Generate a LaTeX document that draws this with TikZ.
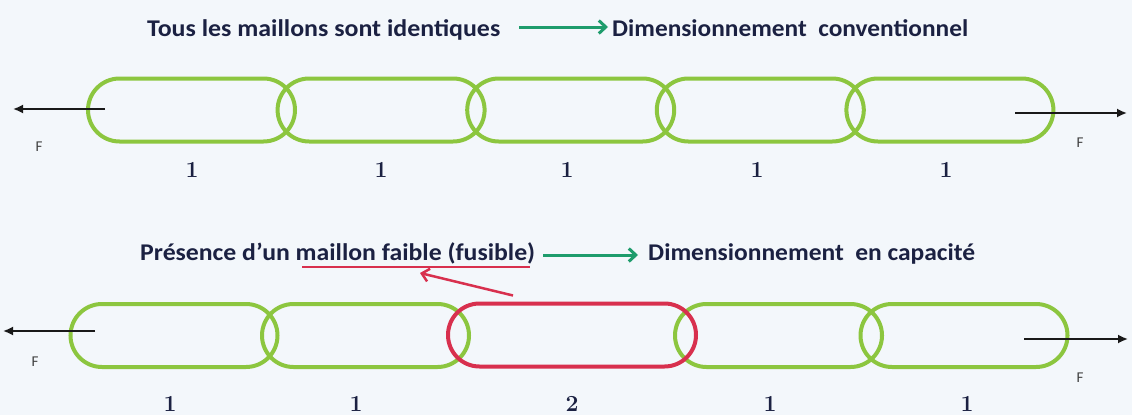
\documentclass[tikz,border=0pt]{standalone}
\usepackage{fontspec}
\newfontfamily\calibri{Carlito}
\usetikzlibrary{arrows.meta}
\definecolor{bg}{HTML}{F3F7FB}
\definecolor{ink}{HTML}{1B2142}
\definecolor{linkgreen}{HTML}{8CC63F}
\definecolor{linkred}{HTML}{D8304E}
\definecolor{arrowgreen}{HTML}{1E9C6C}
\tikzset{
  link/.style={draw=linkgreen, line width=4pt, rounded corners=31.5pt,
    minimum height=63pt, minimum width=207pt, inner sep=0pt},
  weak/.style={link, draw=linkred},
  force/.style={draw=black!90, line width=1.8pt, -{Latex[length=10pt,width=9pt]}},
  leadto/.style={draw=arrowgreen, line width=3pt, -{Straight Barb[length=7pt,width=13pt]}},
  pointer/.style={draw=linkred, line width=2.5pt, -{Straight Barb[length=7pt,width=13pt]}},
  underl/.style={draw=linkred, line width=2pt},
  caption/.style={inner sep=0pt, text=ink, anchor=base west,
    font=\calibri\bfseries\fontsize{24}{28}\selectfont},
  num/.style={inner sep=0pt, text=ink, anchor=base, font=\bfseries\fontsize{23}{28}\selectfont},
  flabel/.style={inner sep=0pt, text=black!75, font=\calibri\fontsize{15}{18}\selectfont},
}
\begin{document}
\begin{tikzpicture}[x=1pt,y=-1pt]
\fill[bg] (0,0) rectangle (1132,415);
\useasboundingbox (0,0) rectangle (1132,415);

% ---- conventional design: identical links ----
\node[caption] (same) at (147,36) {\resizebox{353pt}{\height}{Tous les maillons sont identiques}};
\node[caption] (conv) at (612,36) {\resizebox{356pt}{\height}{Dimensionnement~~conventionnel}};
\draw[leadto] ([shift={(19pt,9pt)}]same.base east) -- ([shift={(-4pt,9pt)}]conv.base west);

\foreach \i/\x in {1/191.5,2/381.1,3/570.7,4/760.3,5/949.9}
  \node[link] (t\i) at (\x,110) {};

\coordinate (tFL) at (13,109);
\coordinate (tFR) at (1127,113);
\draw[force] ([shift={(19pt,1pt)}]t1.west) -- (tFL);
\draw[force] ([shift={(-40pt,-3pt)}]t5.east) -- (tFR);
\node[flabel] (fTL) at (39,147) {F};
\node[flabel] (fTR) at (1080,143) {F};

\foreach \i/\x in {1/192,2/381,3/567,4/757,5/946}
  \node[num] (tn\i) at (\x,177) {1};

% ---- capacity design: one weak link (fuse) ----
\node[caption] (weakcap) at (140,260) {\resizebox{395pt}{\height}{Présence d’un maillon faible (fusible)}};
\node[caption] (capa) at (648,260) {\resizebox{327pt}{\height}{Dimensionnement~~en capacité}};
\draw[leadto] ([shift={(8pt,5pt)}]weakcap.base east) -- ([shift={(-10pt,5pt)}]capa.base west);

\coordinate (ulA) at ([shift={(162pt,-7pt)}]weakcap.base west);
\coordinate (ulB) at ([shift={(-5pt,-7pt)}]weakcap.base east);
\draw[underl] (ulA) -- (ulB);

\node[link] (b1) at (174,335.5) {};
\node[link] (b2) at (365.5,335.5) {};
\node[link] (b4) at (778.5,335.5) {};
\node[link] (b5) at (964,335.5) {};
\node[weak, minimum width=248pt] (b3) at (572,335) {};

\draw[pointer] ([shift={(-59pt,6pt)}]b3.north) -- ([shift={(118pt,-6pt)}]ulA);

\coordinate (bFL) at (3,331);
\coordinate (bFR) at (1128,339);
\draw[force] ([shift={(26.5pt,4.5pt)}]b1.west) -- (bFL);
\draw[force] ([shift={(-45.5pt,-3.5pt)}]b5.east) -- (bFR);
\node[flabel] (fBL) at (35,362) {F};
\node[flabel] (fBR) at (1080,378) {F};

\foreach \i/\x/\t in {1/170/1,2/356/1,3/572/2,4/770/1,5/967/1}
  \node[num] (bn\i) at (\x,411) {\t};
\end{tikzpicture}
\end{document}
